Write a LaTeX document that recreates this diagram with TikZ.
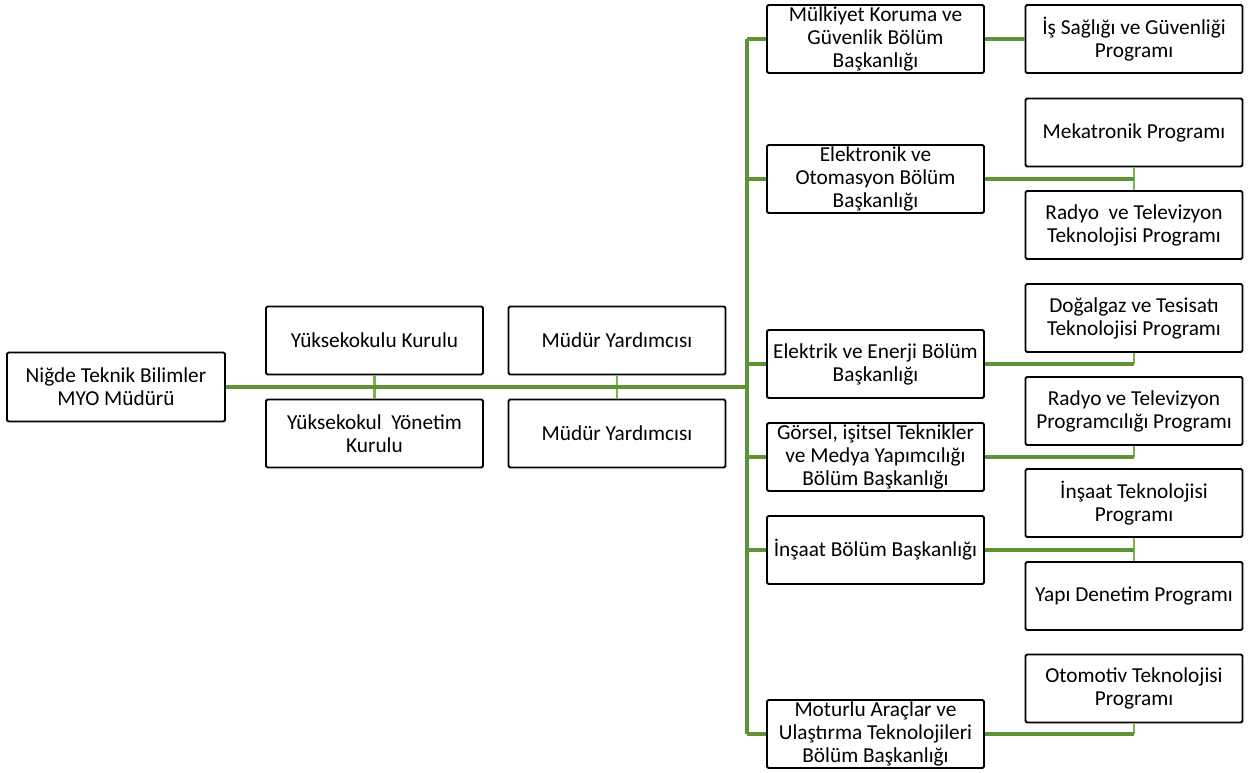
\documentclass[tikz,border=0pt]{standalone}
\usepackage{fontspec}
\setmainfont{Carlito}
\definecolor{busgreen}{HTML}{5E9436}
\definecolor{tiegreen}{HTML}{7DB24C}
\tikzset{
  unit/.style={draw=black, line width=1.8pt, rounded corners=1.5pt, fill=white,
    minimum width=217pt, minimum height=68pt, inner sep=0pt, align=center,
    font=\fontsize{21.3}{23}\selectfont},
  mainline/.style={draw=busgreen, line width=4.4pt},
  subline/.style={draw=busgreen, line width=3.6pt},
  tieline/.style={draw=tiegreen, line width=2.6pt}
}
\begin{document}
\begin{tikzpicture}[x=1pt, y=-1pt]
      \useasboundingbox (0,0) rectangle (1254,773);
      \coordinate (bus) at (747,387);
      \coordinate (bustop) at (747,39);
      \coordinate (busbot) at (747,734);
      % left side
      \draw
        (116,387) node[unit, minimum width=218pt, minimum height=69pt] (mudur){Niğde Teknik Bilimler\\MYO Müdürü}
        (374.5,340.5) node[unit] (kurul){Yüksekokulu Kurulu}
        (374.5,433.5) node[unit] (ykurul){Yüksekokul\ \ Yönetim\\Kurulu}
        (617,340.5) node[unit] (yard1){Müdür Yardımcısı}
        (617,433.5) node[unit] (yard2){Müdür Yardımcısı};
      % bolum baskanliklari
      \draw
        (875.5,39) node[unit] (mulk){Mülkiyet Koruma ve\\Güvenlik Bölüm\\Başkanlığı}
        (875.5,179) node[unit] (elkt){Elektronik ve\\Otomasyon Bölüm\\Başkanlığı}
        (875.5,364) node[unit] (elek){Elektrik ve Enerji Bölüm\\Başkanlığı}
        (875.5,457) node[unit] (gors){Görsel, işitsel Teknikler\\ve Medya Yapımcılığı\\Bölüm Başkanlığı}
        (875.5,550) node[unit] (insb){İnşaat Bölüm Başkanlığı}
        (875.5,734) node[unit] (motr){Moturlu Araçlar ve\\Ulaştırma Teknolojileri\\Bölüm Başkanlığı};
      % programlar
      \draw
        (1134,39) node[unit] (isg){İş Sağlığı ve Güvenliği\\Programı}
        (1134,132.5) node[unit] (mekt){Mekatronik Programı}
        (1134,225) node[unit] (rtvt){Radyo\ \ ve Televizyon\\Teknolojisi Programı}
        (1134,318) node[unit] (dogl){Doğalgaz ve Tesisatı\\Teknolojisi Programı}
        (1134,411) node[unit] (rtvp){Radyo ve Televizyon\\Programcılığı Programı}
        (1134,503) node[unit] (inst){İnşaat Teknolojisi\\Programı}
        (1134,596) node[unit] (yapi){Yapı Denetim Programı}
        (1134,688.5) node[unit] (otom){Otomotiv Teknolojisi\\Programı};
      \begin{scope}
        \draw[tieline] (kurul) to (ykurul);
        \draw[tieline] (yard1) to (yard2);
        \draw[tieline] (mekt) to (rtvt);
        \draw[tieline] (inst) to (yapi);
        \draw[tieline] (elek.east -| dogl.south) to (dogl.south);
        \draw[tieline] (gors.east -| rtvp.south) to (rtvp.south);
        \draw[tieline] (motr.east -| otom.south) to (otom.south);
        \draw[mainline] (mudur.east) to (bus);
        \draw[subline] (bustop) to (busbot);
        \draw[subline] (bus |- mulk.west) to (mulk.west);
        \draw[subline] (bus |- elkt.west) to (elkt.west);
        \draw[subline] (bus |- elek.west) to (elek.west);
        \draw[subline] (bus |- gors.west) to (gors.west);
        \draw[subline] (bus |- insb.west) to (insb.west);
        \draw[subline] (bus |- motr.west) to (motr.west);
        \draw[subline] (mulk.east) to (isg.west);
        \draw[subline] (elkt.east) to (elkt.east -| mekt.south);
        \draw[subline] (elek.east) to (elek.east -| dogl.south);
        \draw[subline] (gors.east) to (gors.east -| rtvp.south);
        \draw[subline] (insb.east) to (insb.east -| inst.south);
        \draw[subline] (motr.east) to (motr.east -| otom.south);
      \end{scope}
    \end{tikzpicture}
\end{document}
